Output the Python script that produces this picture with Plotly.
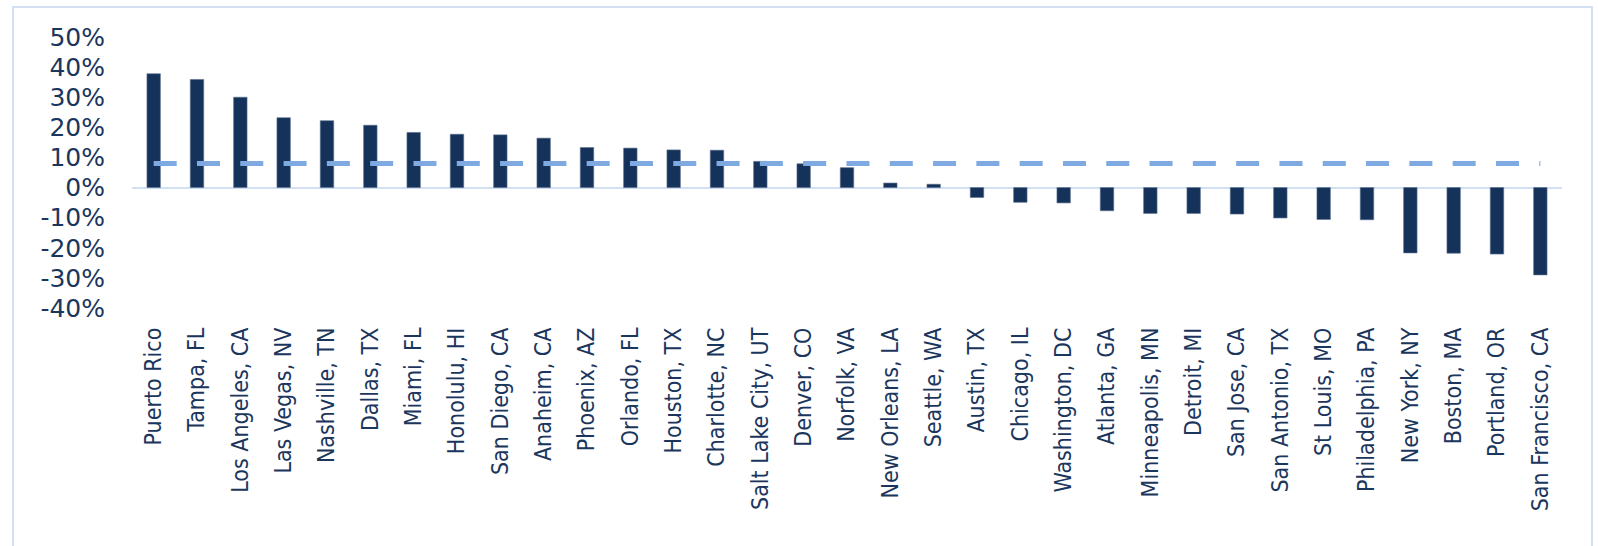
import plotly.graph_objects as go

# Year-over-year change by market
markets = [
    "Puerto Rico", "Tampa, FL", "Los Angeles, CA", "Las Vegas, NV", "Nashville, TN",
    "Dallas, TX", "Miami, FL", "Honolulu, HI", "San Diego, CA", "Anaheim, CA",
    "Phoenix, AZ", "Orlando, FL", "Houston, TX", "Charlotte, NC", "Salt Lake City, UT",
    "Denver, CO", "Norfolk, VA", "New Orleans, LA", "Seattle, WA", "Austin, TX",
    "Chicago, IL", "Washington, DC", "Atlanta, GA", "Minneapolis, MN", "Detroit, MI",
    "San Jose, CA", "San Antonio, TX", "St Louis, MO", "Philadelphia, PA", "New York, NY",
    "Boston, MA", "Portland, OR", "San Francisco, CA",
]
change_pct = [
    37.8, 35.9, 30.0, 23.2, 22.2,
    20.7, 18.3, 17.7, 17.5, 16.4,
    13.3, 13.1, 12.5, 12.4, 8.7,
    7.9, 6.6, 1.5, 1.1, -3.3,
    -4.9, -5.1, -7.7, -8.6, -8.6,
    -8.8, -10.1, -10.6, -10.7, -21.7,
    -21.8, -22.1, -29.0,
]
average_pct = 8.0

y_ticks = [50, 40, 30, 20, 10, 0, -10, -20, -30, -40]

NAVY = "#15325A"
TEXT = "#1B365D"
DASH = "#7EA9E1"
RULE = "#D3E0F3"

W, H = 1598, 546
ML, MR, MT, MB = 132, 36, 37, 238

fig = go.Figure()
fig.add_trace(go.Bar(
    x=markets,
    y=[v / 100 for v in change_pct],
    marker=dict(color=NAVY, line=dict(color="#5B6F8E", width=0.6)),
    hoverinfo="x+y",
))
fig.add_trace(go.Scatter(
    x=markets,
    y=[average_pct / 100] * len(markets),
    mode="lines",
    line=dict(color=DASH, width=5, dash="23px,20.3px"),
    hoverinfo="skip",
))

# thin frame around the whole chart
pw = W - ML - MR
ph = H - MT - MB
fig.add_shape(
    type="rect", xref="paper", yref="paper",
    x0=(13 - ML) / pw, x1=(1592 - ML) / pw,
    y0=(H - MB - 560) / ph, y1=(H - MB - 7) / ph,
    line=dict(color=RULE, width=2), fillcolor="rgba(0,0,0,0)", layer="below",
)

fig.update_layout(
    width=W, height=H,
    margin=dict(l=ML, r=MR, t=MT, b=MB, pad=0),
    paper_bgcolor="white", plot_bgcolor="white",
    showlegend=False,
    bargap=0.69,
    font=dict(family="DejaVu Sans", color=TEXT),
    xaxis=dict(
        type="category",
        tickangle=-90,
        tickfont=dict(family="DejaVu Sans Condensed, DejaVu Sans", size=23, color=TEXT),
        showgrid=False, showline=False, ticks="",
        ticklabelstandoff=14,
    ),
    yaxis=dict(
        range=[-0.40, 0.50],
        tickvals=[t / 100 for t in y_ticks],
        ticktext=[f"{t}%" for t in y_ticks],
        tickfont=dict(family="DejaVu Sans", size=25, color=TEXT),
        showgrid=False, showline=False, ticks="",
        zeroline=True, zerolinecolor=RULE, zerolinewidth=2,
        ticklabelstandoff=26,
    ),
)

fig.write_html("out.html")
